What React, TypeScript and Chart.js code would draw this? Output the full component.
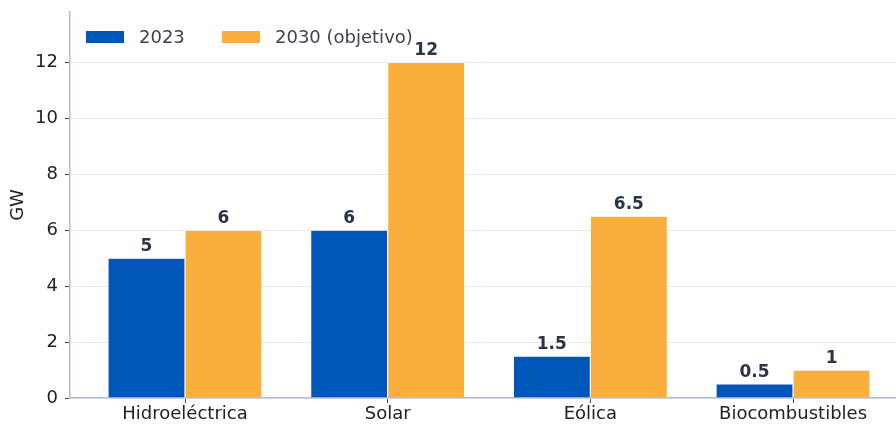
import React, { useEffect, useRef } from "react";
import { Chart, registerables } from "chart.js";

Chart.register(...registerables);

const categories = ["Hidroeléctrica", "Solar", "Eólica", "Biocombustibles"];
const values2023 = [5, 6, 1.5, 0.5];
const values2030 = [6, 12, 6.5, 1];
const seriesNames = ["2023", "2030 (objetivo)"];
const yTicks = [0, 2, 4, 6, 8, 10, 12];

const BLUE = "#0057b8";
const ORANGE = "#f9ae3d";
const FONT = "'DejaVu Sans', sans-serif";
const FS = 18;

const valueLabels = {
  id: "valueLabels",
  afterDatasetsDraw(chart: any) {
    const ctx = chart.ctx;
    ctx.save();
    ctx.font = `bold 17px ${FONT}`;
    ctx.fillStyle = "#2b3445";
    ctx.textAlign = "center";
    ctx.textBaseline = "bottom";
    chart.data.datasets.forEach((ds: any, di: number) => {
      const meta = chart.getDatasetMeta(di);
      meta.data.forEach((bar: any, i: number) => {
        const v = ds.data[i].y;
        ctx.fillText(String(v), bar.x, bar.y - 3);
      });
    });
    ctx.restore();
  },
};

const customLegend = {
  id: "customLegend",
  afterDraw(chart: any) {
    const ctx = chart.ctx;
    ctx.save();
    ctx.font = `${FS}px ${FONT}`;
    ctx.textBaseline = "middle";
    ctx.textAlign = "left";
    const items = [
      { x: 86, color: BLUE, label: seriesNames[0] },
      { x: 222, color: ORANGE, label: seriesNames[1] },
    ];
    items.forEach((it) => {
      ctx.fillStyle = it.color;
      ctx.fillRect(it.x, 31, 38, 12);
      ctx.fillStyle = "#3d4350";
      ctx.fillText(it.label, it.x + 53, 38);
    });
    ctx.restore();
  },
};

export default function App() {
  const ref = useRef<HTMLCanvasElement>(null);
  useEffect(() => {
    document.body.style.margin = "0";
    const chart = new Chart(ref.current!, {
      type: "bar",
      data: {
        datasets: [
          {
            label: seriesNames[0],
            data: values2023.map((v, i) => ({ x: i, y: v })),
            backgroundColor: BLUE,
            borderColor: "#ffffff",
            borderWidth: 0.6,
            categoryPercentage: 0.76,
            barPercentage: 1,
          },
          {
            label: seriesNames[1],
            data: values2030.map((v, i) => ({ x: i, y: v })),
            backgroundColor: ORANGE,
            borderColor: "#ffffff",
            borderWidth: 0.6,
            categoryPercentage: 0.76,
            barPercentage: 1,
          },
        ] as any,
      },
      options: {
        animation: false,
        responsive: false,
        layout: { padding: { top: 12, right: 0, left: 0, bottom: 0 } },
        plugins: {
          legend: { display: false },
          tooltip: { enabled: false },
        },
        scales: {
          x: {
            type: "linear",
            offset: false,
            min: -0.5674,
            max: 3.508,
            afterBuildTicks: (s: any) => {
              s.ticks = categories.map((_, i) => ({ value: i }));
            },
            afterFit: (s: any) => {
              s.height = 27;
              s.paddingLeft = 0;
              s.paddingRight = 0;
            },
            ticks: {
              callback: (v: any) => categories[v] ?? "",
              font: { family: FONT, size: FS },
              color: "#222222",
              padding: 1,
              maxRotation: 0,
              autoSkip: false,
            },
            grid: {
              offset: false,
              drawOnChartArea: false,
              drawTicks: true,
              tickLength: 5,
              tickColor: "#444444",
            },
            border: { color: "#b3bfd0", width: 1.5 },
          },
          y: {
            min: 0,
            max: 13.8,
            afterBuildTicks: (s: any) => {
              s.ticks = yTicks.map((v) => ({ value: v }));
            },
            afterFit: (s: any) => {
              s.width = 70;
              s.paddingTop = 0;
              s.paddingBottom = 0;
            },
            ticks: {
              font: { family: FONT, size: FS },
              color: "#222222",
              padding: 7,
            },
            grid: {
              color: "#e6eaf2",
              lineWidth: 1,
              tickLength: 5,
              tickColor: "#444444",
            },
            border: { color: "#b3bfd0", width: 1.5 },
            title: {
              display: true,
              text: "GW",
              font: { family: FONT, size: FS },
              color: "#222222",
              padding: { top: 8, bottom: 0 },
            },
          },
        },
      } as any,
      plugins: [valueLabels, customLegend],
    });
    return () => chart.destroy();
  }, []);
  return <canvas ref={ref} width={896} height={425} style={{ display: "block" }} />;
}
